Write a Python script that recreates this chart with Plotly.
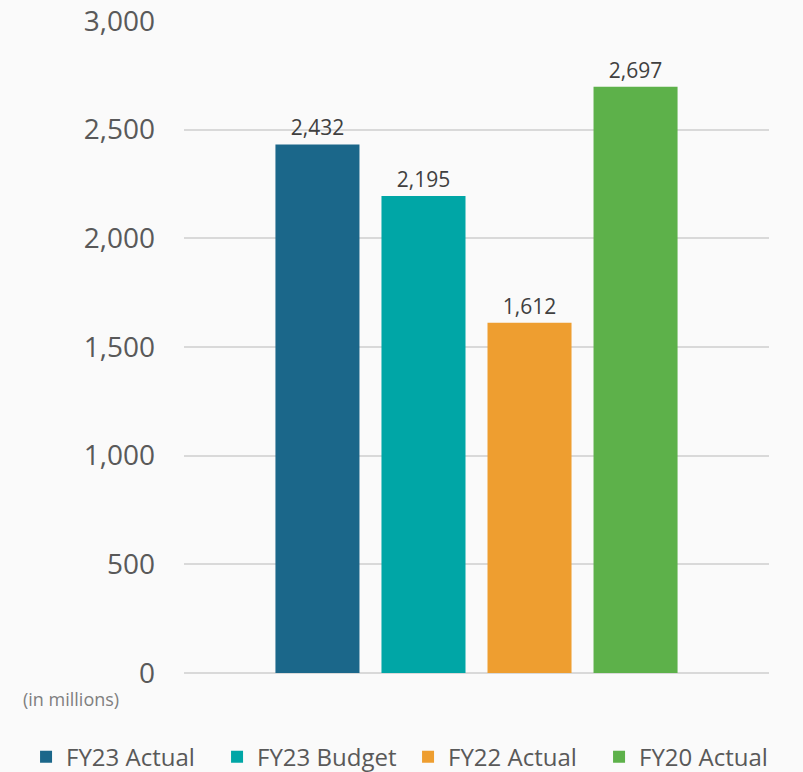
import plotly.graph_objects as go

series = ["FY23 Actual", "FY23 Budget", "FY22 Actual", "FY20 Actual"]
values = [2432, 2195, 1612, 2697]
colors = ["#1B678A", "#00A6A6", "#EE9E30", "#5DB14A"]
y_ticks = [0, 500, 1000, 1500, 2000, 2500, 3000]

FONT = "Open Sans"
BG = "#FAFAFA"

fig = go.Figure()
for name, v, c in zip(series, values, colors):
    fig.add_trace(go.Bar(
        x=[""], y=[v], name=name, marker=dict(color=c, line=dict(width=0)),
        text=[f"{v:,}"], textposition="outside", cliponaxis=False,
        textfont=dict(family=FONT, size=21, color="#404040"),
    ))

fig.update_layout(
    width=803, height=772,
    paper_bgcolor=BG, plot_bgcolor=BG,
    margin=dict(l=184, r=34, t=21, b=99, autoexpand=False),
    barmode="group", bargap=0.275, bargroupgap=0.2075,
    font=dict(family=FONT, color="#595959"),
    showlegend=True,
    legend=dict(orientation="h", xref="paper", yref="paper",
                x=-0.27, y=-0.129, xanchor="left", yanchor="middle",
                entrywidth=146, entrywidthmode="pixels",
                font=dict(family=FONT, size=24, color="#595959"),
                bgcolor="rgba(0,0,0,0)"),
    annotations=[dict(text="(in millions)", xref="paper", yref="paper",
                      x=-0.2786, y=-0.04, xanchor="left", yanchor="middle",
                      showarrow=False,
                      font=dict(family=FONT, size=18, color="#7F7F7F"))],
)
fig.update_yaxes(range=[0, 3000], tickvals=y_ticks, tickformat=",",
                 showgrid=True, gridcolor="#D9D9D9", gridwidth=1.5,
                 zeroline=True, zerolinecolor="#D9D9D9", zerolinewidth=1.5,
                 showline=False, ticks="", ticklabelstandoff=28, automargin=False,
                 tickfont=dict(family=FONT, size=28, color="#595959"))
fig.update_xaxes(showticklabels=False, showgrid=False, zeroline=False, showline=False,
                 automargin=False)

fig.write_html("out.html", config={"displayModeBar": False},
               post_script="document.body.style.margin='0';document.body.style.background='#FAFAFA';")
